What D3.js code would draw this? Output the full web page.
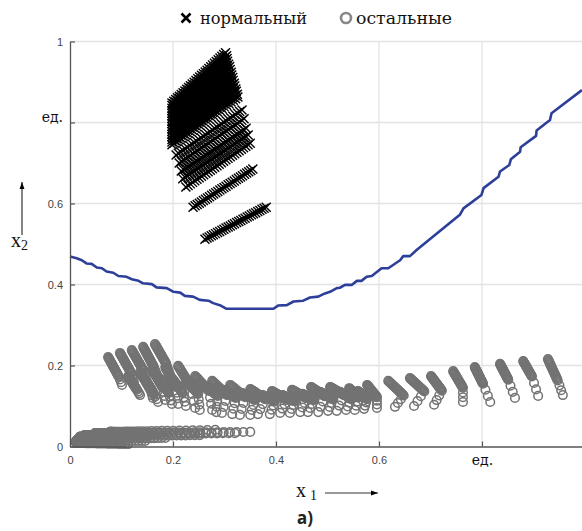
<!DOCTYPE html>
<html>
<head>
<meta charset="utf-8">
<script src="https://cdn.jsdelivr.net/npm/d3@7"></script>
<style>
  body { margin: 0; background: #fff; }
  .tick text { font-family: 'Liberation Sans', Arial, sans-serif; font-size: 11px; fill: #444; }
</style>
</head>
<body>
<div id="visualization"></div>
<script>
const xTicks = [0, 0.2, 0.4, 0.6, 0.8]
const yTicks = [0, 0.2, 0.4, 0.6, 0.8, 1]
const gridTicks = [0.2, 0.4, 0.6, 0.8, 1]
const unitTick = 0.8
const unitLabel = 'ед.'
const legendLabels = ['нормальный', 'остальные']
// Liberation Serif here has no Cyrillic, so Cyrillic text goes to DejaVu Serif
const serif = "'Liberation Serif', 'Times New Roman', serif"
const cyrSerif = "'DejaVu Serif', serif"

// decision boundary (blue)
const boundaryX = [0, 0.013, 0.023, 0.032, 0.042, 0.052, 0.062, 0.071, 0.084, 0.094, 0.110, 0.120, 0.133, 0.142, 0.159, 0.168, 0.188, 0.201, 0.214, 0.223, 0.239, 0.252, 0.269, 0.278, 0.291, 0.304, 0.395, 0.404, 0.421, 0.434, 0.453, 0.466, 0.482, 0.495, 0.505, 0.518, 0.524, 0.534, 0.547, 0.557, 0.566, 0.576, 0.586, 0.605, 0.618, 0.641, 0.647, 0.660, 0.673, 0.757, 0.764, 0.799, 0.803, 0.832, 0.835, 0.853, 0.856, 0.874, 0.875, 0.905, 0.906, 0.932, 0.935, 0.994]
const boundaryY = [0.469, 0.465, 0.460, 0.452, 0.451, 0.442, 0.440, 0.432, 0.429, 0.421, 0.419, 0.413, 0.409, 0.403, 0.401, 0.393, 0.391, 0.382, 0.380, 0.372, 0.370, 0.362, 0.360, 0.354, 0.349, 0.340, 0.340, 0.348, 0.349, 0.358, 0.360, 0.368, 0.370, 0.378, 0.382, 0.391, 0.392, 0.399, 0.399, 0.409, 0.409, 0.419, 0.421, 0.440, 0.440, 0.460, 0.470, 0.470, 0.485, 0.572, 0.588, 0.621, 0.638, 0.666, 0.679, 0.695, 0.709, 0.728, 0.739, 0.767, 0.780, 0.806, 0.823, 0.880]

// "нормальный" rows of crosses: start / end of each row (top of block first)
const normalX0 = [0.198, 0.198, 0.198, 0.198, 0.198, 0.198, 0.198, 0.198, 0.198, 0.198, 0.198, 0.198, 0.198, 0.198, 0.198, 0.198, 0.198, 0.206, 0.212, 0.216, 0.219, 0.225, 0.239, 0.262]
const normalY0 = [0.848, 0.842, 0.835, 0.829, 0.823, 0.816, 0.810, 0.803, 0.797, 0.790, 0.784, 0.778, 0.771, 0.765, 0.758, 0.752, 0.745, 0.720, 0.700, 0.680, 0.661, 0.641, 0.591, 0.512]
const normalX1 = [0.302, 0.304, 0.305, 0.306, 0.308, 0.310, 0.311, 0.313, 0.314, 0.316, 0.317, 0.319, 0.320, 0.322, 0.323, 0.325, 0.326, 0.334, 0.338, 0.342, 0.346, 0.350, 0.355, 0.381]
const normalY1 = [0.972, 0.965, 0.958, 0.951, 0.944, 0.938, 0.931, 0.924, 0.917, 0.911, 0.904, 0.897, 0.890, 0.883, 0.877, 0.870, 0.863, 0.831, 0.809, 0.786, 0.769, 0.749, 0.685, 0.591]
const normalCount = 30

// "остальные" streaks of circles: dense body from head, then a few loose tail circles
const otherX0 = [0.074, 0.097, 0.120, 0.142, 0.165, 0.113, 0.136, 0.159, 0.185, 0.210, 0.243, 0.276, 0.311, 0.350, 0.392, 0.431, 0.468, 0.505, 0.542, 0.577, 0.618, 0.660, 0.701, 0.744, 0.786, 0.835, 0.880, 0.928,
  0.148, 0.175, 0.198, 0.225, 0.262, 0.297, 0.334, 0.373, 0.412, 0.451, 0.485, 0.524, 0.559]
const otherY0 = [0.221, 0.231, 0.238, 0.246, 0.253, 0.174, 0.184, 0.191, 0.196, 0.199, 0.174, 0.162, 0.152, 0.142, 0.137, 0.140, 0.147, 0.147, 0.144, 0.152, 0.162, 0.169, 0.174, 0.186, 0.196, 0.204, 0.211, 0.216,
  0.162, 0.167, 0.169, 0.162, 0.149, 0.140, 0.132, 0.127, 0.127, 0.130, 0.135, 0.135, 0.137]
const otherX1 = [0.095, 0.119, 0.142, 0.163, 0.187, 0.130, 0.157, 0.181, 0.206, 0.235, 0.270, 0.305, 0.340, 0.379, 0.421, 0.460, 0.495, 0.532, 0.561, 0.596, 0.648, 0.688, 0.722, 0.763, 0.802, 0.851, 0.897, 0.947,
  0.163, 0.192, 0.219, 0.249, 0.287, 0.322, 0.359, 0.398, 0.437, 0.474, 0.511, 0.546, 0.577]
const otherY1 = [0.172, 0.181, 0.189, 0.196, 0.204, 0.140, 0.139, 0.144, 0.147, 0.147, 0.137, 0.127, 0.122, 0.117, 0.115, 0.119, 0.124, 0.127, 0.122, 0.122, 0.126, 0.136, 0.138, 0.145, 0.155, 0.165, 0.173, 0.163,
  0.130, 0.132, 0.132, 0.130, 0.125, 0.120, 0.115, 0.112, 0.112, 0.115, 0.117, 0.117, 0.117]
const otherTailX = [0.101, 0.124, 0.148, 0.171, 0.194, 0.136, 0.161, 0.185, 0.210, 0.243, 0.276, 0.295, 0.330, 0.365, 0.408, 0.447, 0.482, 0.518, 0.553, 0.596, 0.631, 0.668, 0.707, 0.763, 0.816, 0.864, 0.909, 0.957,
  0.171, 0.198, 0.225, 0.252, 0.284, 0.315, 0.350, 0.388, 0.427, 0.462, 0.501, 0.536, 0.571]
const otherTailY = [0.152, 0.159, 0.164, 0.172, 0.179, 0.127, 0.120, 0.115, 0.105, 0.095, 0.090, 0.083, 0.078, 0.080, 0.083, 0.085, 0.085, 0.088, 0.090, 0.095, 0.098, 0.100, 0.103, 0.110, 0.110, 0.120, 0.125, 0.127,
  0.110, 0.105, 0.100, 0.090, 0.085, 0.080, 0.078, 0.080, 0.083, 0.085, 0.088, 0.090, 0.093]
const otherBodyCount = 22
const otherTailCount = 3

// "остальные" low band near the x1 axis: dense on the left, loose to the right
const bandX0 = [0.012, 0.012, 0.016, 0.019, 0.029, 0.049, 0.078]
const bandY0 = [0.009, 0.014, 0.019, 0.024, 0.028, 0.033, 0.036]
const bandX1 = [0.113, 0.146, 0.185, 0.252, 0.320, 0.350, 0.282]
const bandY1 = [0.006, 0.014, 0.021, 0.028, 0.033, 0.036, 0.041]
const bandCount = [40, 45, 50, 55, 55, 50, 30]

const width = 582
const height = 531

const x = d3.scaleLinear().domain([0, 1]).range([70, 585])
const y = d3.scaleLinear().domain([0, 1]).range([446.5, 41.5])

// markers laid along a row; power > 1 packs them at the start
function alongRows(x0, y0, x1, y1, count, power, skipFirst) {
  const pts = []
  x0.forEach((_, i) => {
    const n = Array.isArray(count) ? count[i] : count
    for (let k = skipFirst ? 1 : 0; k < n; k++) {
      const t = Math.pow(k / (n - 1), power)
      pts.push([x0[i] + (x1[i] - x0[i]) * t, y0[i] + (y1[i] - y0[i]) * t])
    }
  })
  return pts
}

const svg = d3.select('#visualization')
  .append('svg')
  .attr('width', width)
  .attr('height', height)
  .attr('id', 'canvas')

// grid
svg.append('g')
  .selectAll('line')
  .data(gridTicks)
  .join('line')
  .attr('x1', d => x(d)).attr('x2', d => x(d))
  .attr('y1', y(1)).attr('y2', y(0))
  .attr('stroke', '#e3e3e3').attr('stroke-width', 1.3)

svg.append('g')
  .selectAll('line')
  .data(gridTicks)
  .join('line')
  .attr('x1', x(0)).attr('x2', width)
  .attr('y1', d => y(d)).attr('y2', d => y(d))
  .attr('stroke', '#e3e3e3').attr('stroke-width', 1.3)

// others (grey circles)
const others = [].concat(
  alongRows(otherX0, otherY0, otherX1, otherY1, otherBodyCount, 1),
  alongRows(otherX1, otherY1, otherTailX, otherTailY, otherTailCount + 1, 1, true),
  alongRows(bandX0, bandY0, bandX1, bandY1, bandCount, 2.2)
)
svg.append('g')
  .selectAll('circle')
  .data(others)
  .join('circle')
  .attr('cx', d => x(d[0]))
  .attr('cy', d => y(d[1]))
  .attr('r', 4.3)
  .attr('fill', 'none')
  .attr('stroke', '#737373')
  .attr('stroke-width', 1.5)

// normal (black crosses)
const crossPath = 'M-4.5,-4.5L4.5,4.5M-4.5,4.5L4.5,-4.5'
const normals = alongRows(normalX0, normalY0, normalX1, normalY1, normalCount, 1)
svg.append('g')
  .selectAll('path')
  .data(normals)
  .join('path')
  .attr('d', crossPath)
  .attr('transform', d => `translate(${x(d[0])},${y(d[1])})`)
  .attr('fill', 'none')
  .attr('stroke', '#000')
  .attr('stroke-width', 1.4)

// boundary
const boundary = boundaryX.map((d, i) => [d, boundaryY[i]])
svg.append('path')
  .datum(boundary)
  .attr('d', d3.line().x(d => x(d[0])).y(d => y(d[1])))
  .attr('fill', 'none')
  .attr('stroke', '#2d3f99')
  .attr('stroke-width', 2.6)
  .attr('stroke-linejoin', 'round')

// axes
const fmt = d => (d === unitTick ? unitLabel : String(d))

const yAxis = svg.append('g')
  .attr('transform', `translate(${x(0)},0)`)
  .call(d3.axisLeft(y).tickValues(yTicks).tickFormat(fmt).tickSize(-5).tickSizeOuter(0).tickPadding(7))
const xAxis = svg.append('g')
  .attr('transform', `translate(0,${y(0)})`)
  .call(d3.axisBottom(x).tickValues(xTicks).tickFormat(fmt).tickSize(-5).tickSizeOuter(0).tickPadding(10))

svg.selectAll('.domain').attr('stroke', '#555').attr('stroke-width', 1.3)
svg.selectAll('.tick line').attr('stroke', '#555').attr('stroke-width', 1.2)

// unit labels are set in the serif face
yAxis.selectAll('.tick text')
  .filter(d => d === unitTick)
  .attr('dy', '-0.05em')
  .style('font-family', cyrSerif)
  .style('font-size', '14px')
  .style('fill', '#111')
xAxis.selectAll('.tick text')
  .filter(d => d === unitTick)
  .attr('dy', '0.6em')
  .style('font-family', cyrSerif)
  .style('font-size', '14px')
  .style('fill', '#111')

// arrows for axis titles
svg.append('defs').append('marker')
  .attr('id', 'head')
  .attr('viewBox', '0 0 10 10')
  .attr('refX', 10).attr('refY', 5)
  .attr('markerWidth', 7).attr('markerHeight', 11)
  .attr('markerUnits', 'userSpaceOnUse')
  .attr('orient', 'auto')
  .append('path')
  .attr('d', 'M0,1.5L10,5L0,8.5Z')
  .attr('fill', '#000')

svg.append('line')
  .attr('x1', 22).attr('y1', 235).attr('x2', 22).attr('y2', 182)
  .attr('stroke', '#333').attr('stroke-width', 1.2)
  .attr('marker-end', 'url(#head)')

svg.append('line')
  .attr('x1', 325).attr('y1', 493).attr('x2', 378).attr('y2', 493)
  .attr('stroke', '#333').attr('stroke-width', 1.2)
  .attr('marker-end', 'url(#head)')

const x2 = svg.append('text').attr('x', 11).attr('y', 247)
  .style('font-family', serif).style('font-size', '20px').attr('fill', '#111')
x2.append('tspan').text('x')
x2.append('tspan').attr('dy', 3).style('font-size', '14px').text('2')

const x1 = svg.append('text').attr('x', 296).attr('y', 497)
  .style('font-family', serif).style('font-size', '20px').attr('fill', '#111')
x1.append('tspan').text('x')
x1.append('tspan').attr('dx', 4).attr('dy', 3).style('font-size', '14px').text('1')

svg.append('text')
  .attr('x', 297).attr('y', 524)
  .style('font-family', "'Noto Sans', sans-serif")
  .style('font-weight', 'bold')
  .style('font-size', '17px')
  .attr('fill', '#222')
  .text('а)')

// legend
svg.append('path')
  .attr('d', 'M-4.5,-4.5L4.5,4.5M-4.5,4.5L4.5,-4.5')
  .attr('transform', 'translate(186,18)')
  .attr('stroke', '#000').attr('stroke-width', 2.6)
svg.append('text').attr('x', 200).attr('y', 24)
  .style('font-family', cyrSerif).style('font-size', '16px').attr('fill', '#111')
  .attr('textLength', 107).attr('lengthAdjust', 'spacingAndGlyphs')
  .text(legendLabels[0])

svg.append('circle')
  .attr('cx', 346).attr('cy', 18).attr('r', 5)
  .attr('fill', 'none').attr('stroke', '#888').attr('stroke-width', 2.6)
svg.append('text').attr('x', 356).attr('y', 24)
  .style('font-family', cyrSerif).style('font-size', '16px').attr('fill', '#111')
  .attr('textLength', 96).attr('lengthAdjust', 'spacingAndGlyphs')
  .text(legendLabels[1])
</script>
</body>
</html>
